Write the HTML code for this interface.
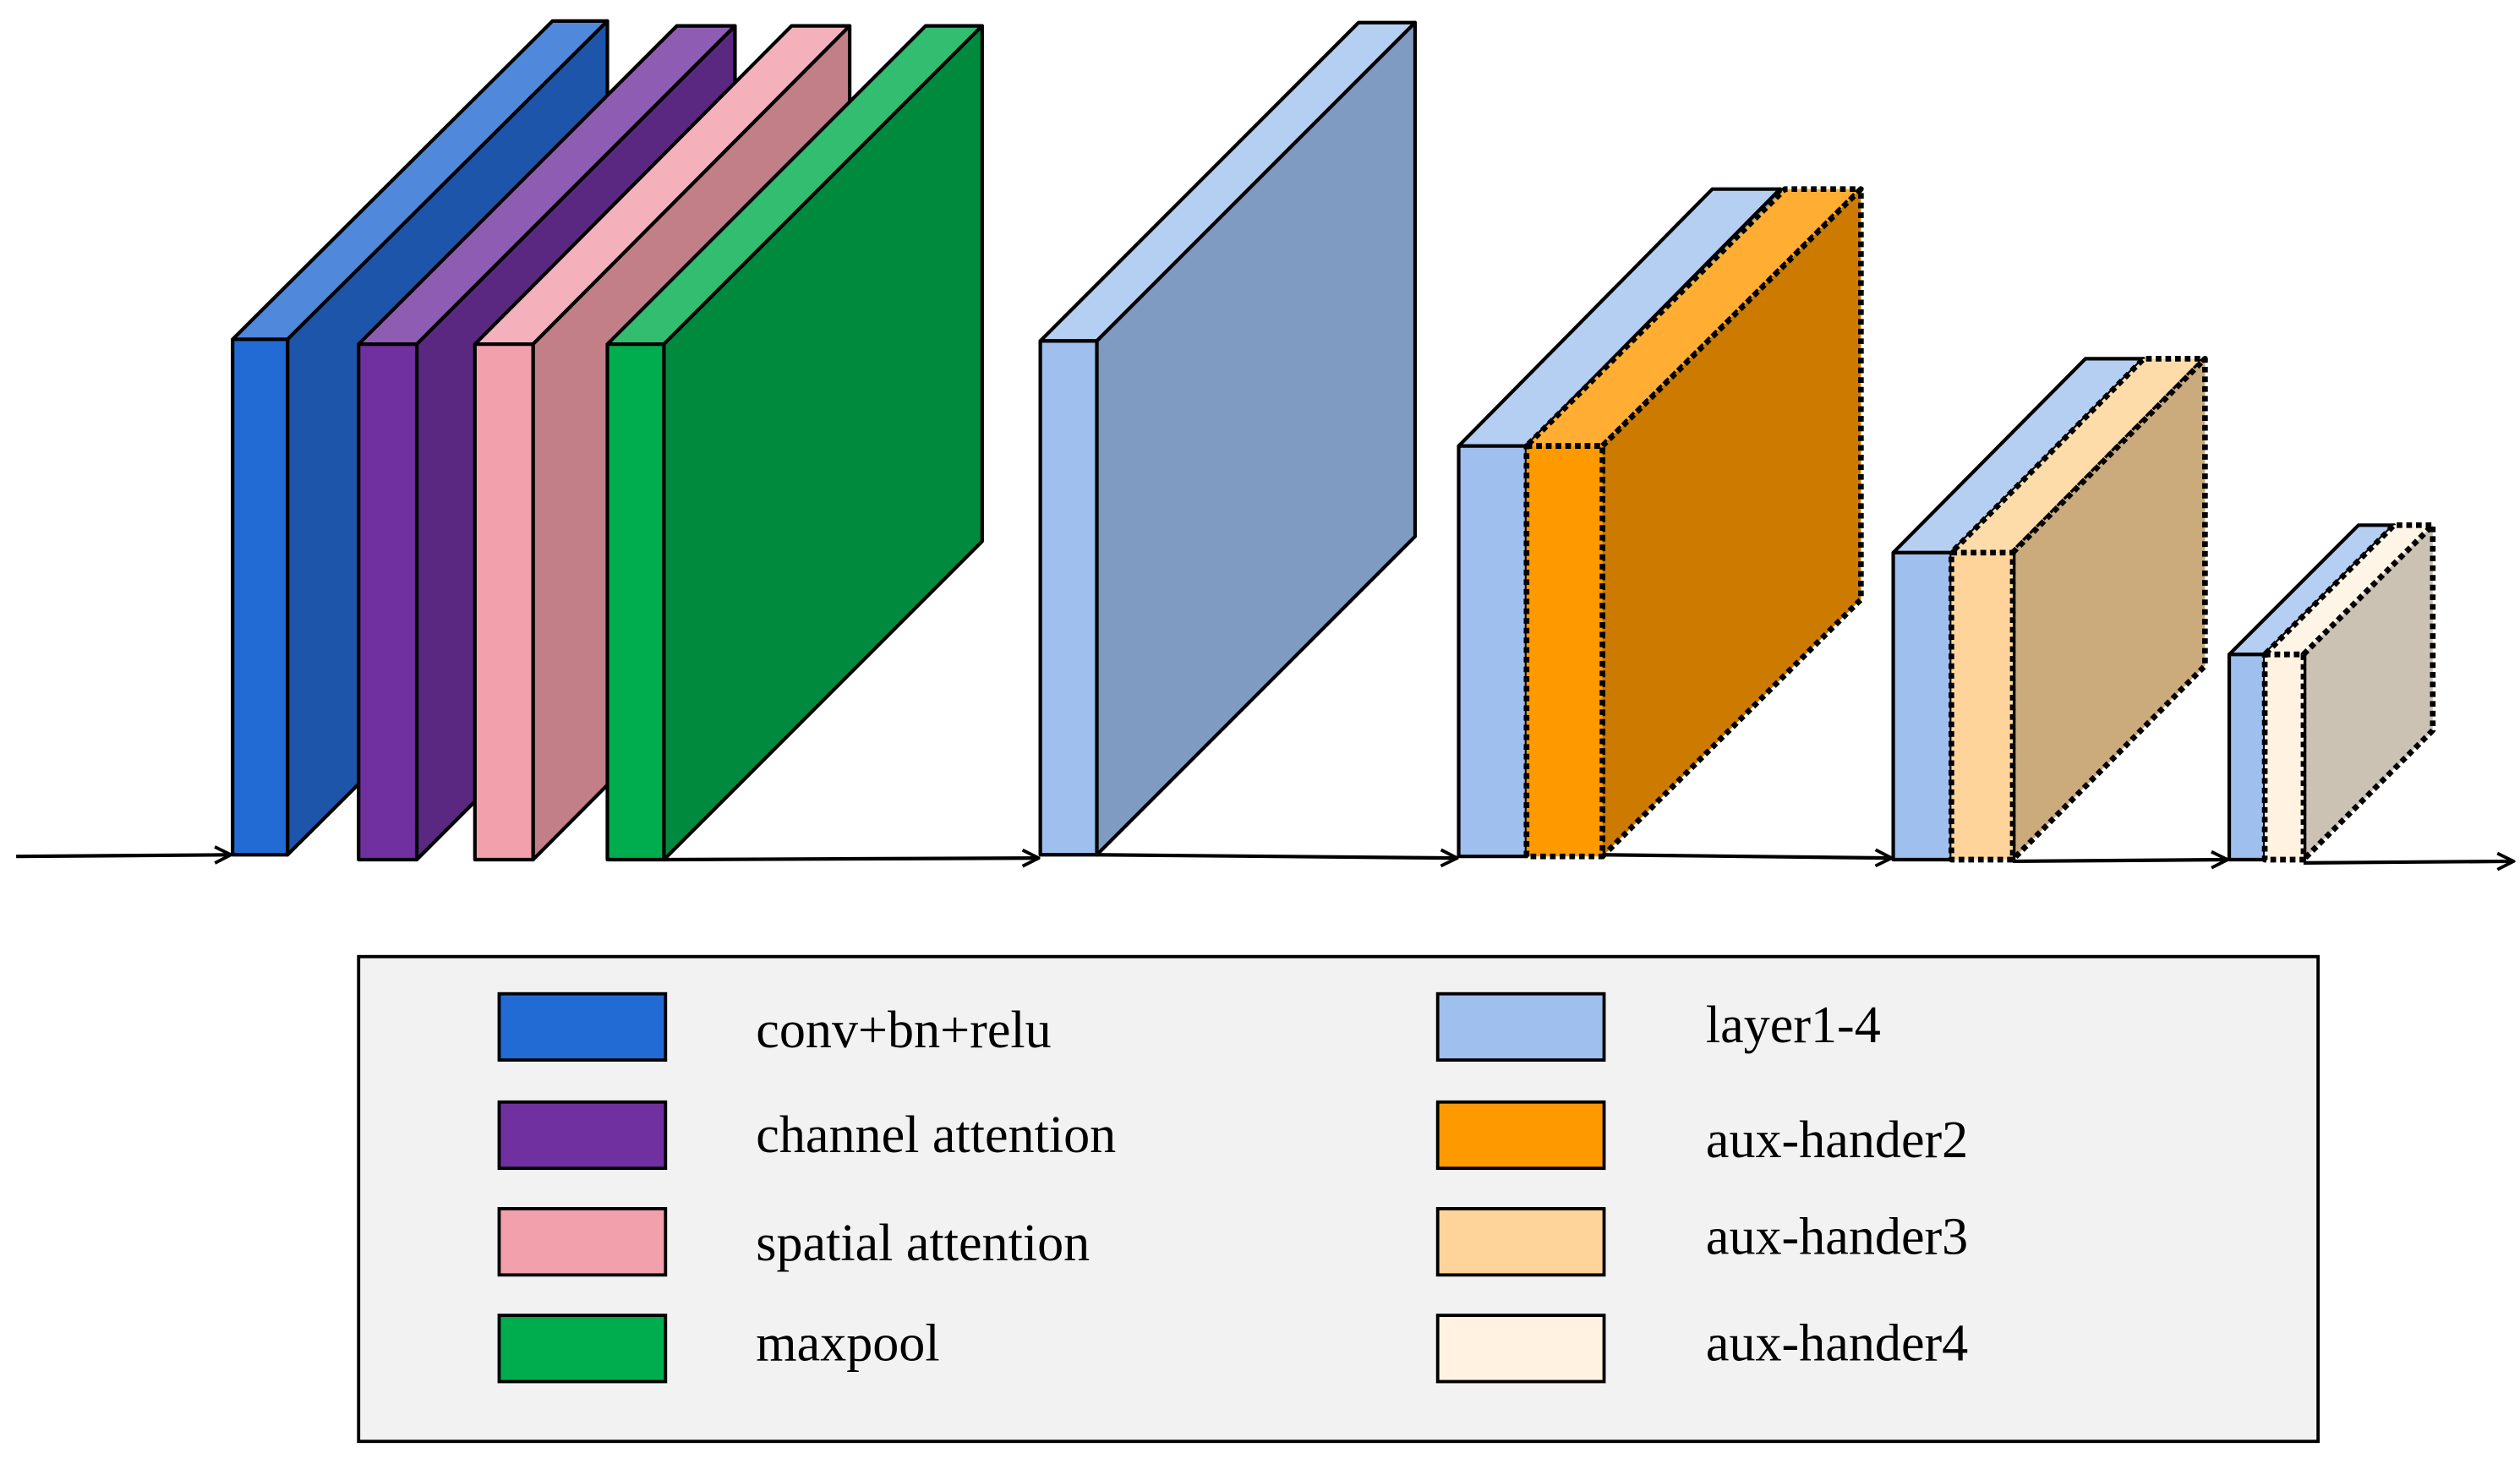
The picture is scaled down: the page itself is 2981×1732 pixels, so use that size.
<!DOCTYPE html>
<html><head><meta charset="utf-8"><style>html,body{margin:0;padding:0;background:#fff}svg{display:block}</style></head>
<body>
<svg id="s" width="2981" height="1732" viewBox="0 0 1560 906" preserveAspectRatio="none" xmlns="http://www.w3.org/2000/svg">
<defs><marker id="a" markerWidth="12" markerHeight="12" refX="11" refY="6" orient="auto" markerUnits="userSpaceOnUse"><path d="M1,1 L11,6 L1,11" fill="none" stroke="#000" stroke-width="2"/></marker></defs>
<g id="boxes"></g>
<g stroke="#000" stroke-width="2.2" fill="none" marker-end="url(#a)">
<line x1="10" y1="530" x2="143" y2="529"/>
<line x1="411" y1="532" x2="643" y2="531"/>
<line x1="679" y1="529" x2="902" y2="531"/>
<line x1="992" y1="529" x2="1171" y2="531"/>
<line x1="1246" y1="533" x2="1379" y2="532"/>
<line x1="1426" y1="534" x2="1556" y2="533"/>
</g>
<rect x="222" y="592" width="1213" height="300" fill="#f2f2f2" stroke="#000" stroke-width="2"/>
<g stroke="#000" stroke-width="2">
<rect x="309" y="615" width="103" height="41" fill="#226bd4"/>
<rect x="309" y="682" width="103" height="41" fill="#7030a0"/>
<rect x="309" y="748" width="103" height="41" fill="#f2a0ac"/>
<rect x="309" y="814" width="103" height="41" fill="#00ad4e"/>
<rect x="890" y="615" width="103" height="41" fill="#9fbfee"/>
<rect x="890" y="682" width="103" height="41" fill="#ff9900"/>
<rect x="890" y="748" width="103" height="41" fill="#fed49a"/>
<rect x="890" y="814" width="103" height="41" fill="#fff2e0"/>
</g>
<g font-family="Liberation Serif, serif" font-size="32.5" fill="#000">
<text x="468" y="648">conv+bn+relu</text>
<text x="468" y="713">channel attention</text>
<text x="468" y="780">spatial attention</text>
<text x="468" y="842">maxpool</text>
<text x="1056" y="645">layer1-4</text>
<text x="1056" y="716">aux-hander2</text>
<text x="1056" y="776">aux-hander3</text>
<text x="1056" y="842">aux-hander4</text>
</g>
</svg>
<script>
var g=document.getElementById('boxes'),h='';
function box(x1,x2,yt,yb,dx,dy,f,r,t,dash){
 var st='stroke="#000" stroke-linejoin="round"'+(dash?' stroke-dasharray="3.5,2.5" stroke-width="3.5"':' stroke-width="2.2"');
 h+='<polygon '+st+' fill="'+t+'" points="'+x1+','+yt+' '+x2+','+yt+' '+(x2+dx)+','+(yt+dy)+' '+(x1+dx)+','+(yt+dy)+'"/>';
 h+='<polygon '+st+' fill="'+r+'" points="'+x2+','+yt+' '+(x2+dx)+','+(yt+dy)+' '+(x2+dx)+','+(yb+dy)+' '+x2+','+yb+'"/>';
 h+='<rect '+st+' fill="'+f+'" x="'+x1+'" y="'+yt+'" width="'+(x2-x1)+'" height="'+(yb-yt)+'"/>';
}
box(144,178,210,529,198,-197,'#226bd4','#1d55aa','#5088dc');
box(222,258,213,532,197,-197,'#7030a0','#5a2880','#8e5db3');
box(294,330,213,532,196,-197,'#f2a0ac','#c27f87','#f4b1bb');
box(376,411,213,532,197,-197,'#00ad4e','#008a3e','#33bd71');
box(644,679,211,529,197,-197,'#9fbfee','#7f9bc2','#b5cff3');
box(903,945,276,530,157,-159,'#9fbfee','#7f9bc2','#b5cff3');
box(945,992,276,530,160,-159,'#ff9900','#cc7a00','#ffad33',1);
box(1172,1208,342,532,119,-120,'#9fbfee','#7f9bc2','#b5cff3');
box(1208,1246,342,532,119,-120,'#fed49a','#cbab7b','#fedcaa',1);
box(1380,1402,405,532,80,-80,'#9fbfee','#7f9bc2','#b5cff3');
box(1402,1426,405,532,80,-80,'#fff2e0','#ccc2b4','#fff5e6',1);
g.innerHTML=h;
</script>
</body></html>
